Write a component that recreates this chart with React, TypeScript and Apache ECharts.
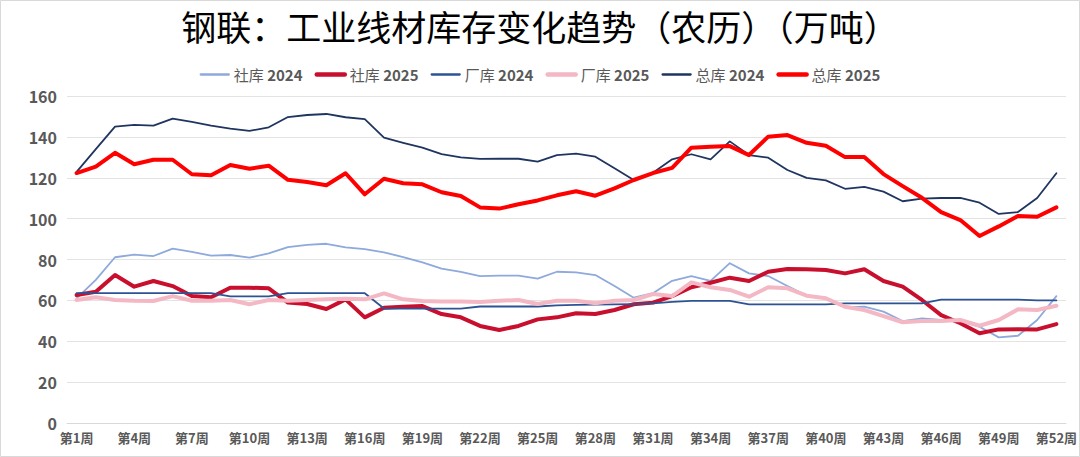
import React, { useEffect, useRef } from "react";
import * as echarts from "echarts";

const weeks = [
  "第1周","第2周","第3周","第4周","第5周","第6周","第7周","第8周","第9周","第10周",
  "第11周","第12周","第13周","第14周","第15周","第16周","第17周","第18周","第19周","第20周",
  "第21周","第22周","第23周","第24周","第25周","第26周","第27周","第28周","第29周","第30周",
  "第31周","第32周","第33周","第34周","第35周","第36周","第37周","第38周","第39周","第40周",
  "第41周","第42周","第43周","第44周","第45周","第46周","第47周","第48周","第49周","第50周",
  "第51周","第52周",
];

const she2024 = [
  61, 70, 81.1, 82.4, 81.7, 85.3, 83.7, 81.9, 82.2, 80.9,
  83, 86.1, 87.2, 87.7, 85.9, 85.1, 83.5, 81.2, 78.6, 75.5,
  73.9, 71.9, 72.1, 72.1, 70.6, 74, 73.7, 72.4, 67, 61.3,
  63.5, 69.6, 71.9, 69.5, 78.2, 73.2, 71.9, 67, 62.3, 61,
  56.6, 56.9, 54.5, 49.9, 51.2, 50.4, 49.9, 47.1, 41.9, 42.7,
  50.4, 62.1,
];
const she2025 = [
  62.6, 64.2, 72.4, 66.7, 69.5, 67, 62.1, 61.5, 66.2, 66.2,
  65.9, 58.9, 58.2, 55.8, 60.5, 51.7, 56.4, 56.9, 57.2, 53.3,
  51.7, 47.5, 45.5, 47.5, 50.7, 51.7, 53.7, 53.3, 55.3, 58.1,
  58.9, 62.1, 66.4, 68.6, 71.1, 69.5, 74, 75.3, 75.2, 74.9,
  73.2, 75.2, 69.5, 66.7, 60.2, 52.8, 48.8, 43.9, 45.8, 45.9,
  45.8, 48.4,
];
const chang2024 = [
  63.5, 63.5, 63.5, 63.5, 63.5, 63.5, 63.5, 63.5, 62, 62,
  62, 63.5, 63.5, 63.5, 63.5, 63.5, 56, 56, 56, 56,
  56, 57, 57, 57, 57, 57.6, 57.8, 57.9, 58, 58.2,
  58.5, 59.3, 59.8, 59.8, 59.8, 58, 58, 58, 58, 58,
  58.5, 58.5, 58.5, 58.5, 58.5, 60.4, 60.4, 60.4, 60.4, 60.4,
  60, 60,
];
const chang2025 = [
  60.2, 61.5, 60.2, 59.8, 59.7, 62.1, 59.8, 59.8, 60.2, 58.1,
  60.2, 59.8, 60.2, 60.5, 60.8, 60.5, 63.4, 60.5, 59.7, 59.5,
  59.5, 59.2, 59.8, 60.2, 58.2, 59.8, 59.8, 58.6, 59.8, 60.2,
  63.1, 62.1, 68.8, 66.4, 65.1, 61.8, 66.4, 65.9, 62.3, 61,
  56.9, 55.3, 52.3, 49.3, 49.9, 49.9, 50.4, 47.6, 50.4, 55.6,
  55.3, 57.4,
];
const total2024 = [
  122.9, 134, 145, 145.9, 145.5, 148.9, 147.3, 145.5, 144, 142.9,
  144.7, 149.7, 150.7, 151.2, 149.6, 148.7, 139.6, 137.1, 134.7, 131.6,
  130, 129.2, 129.3, 129.3, 127.9, 131.1, 131.8, 130.3, 124.6, 118.9,
  122.5, 129, 131.5, 129, 137.8, 131.1, 129.8, 123.8, 119.9, 118.7,
  114.6, 115.5, 113.2, 108.5, 109.8, 110.1, 110.1, 107.8, 102.3, 103.2,
  110.1, 122.2,
];
const total2025 = [
  122.3, 125.4, 132.2, 126.6, 128.8, 128.8, 121.7, 121.2, 126.2, 124.4,
  125.9, 119, 117.9, 116.3, 122.2, 111.9, 119.5, 117.3, 116.8, 112.9,
  111.1, 105.5, 104.9, 107, 108.9, 111.4, 113.4, 111.2, 114.8, 118.9,
  122.3, 124.8, 134.7, 135.2, 135.5, 131.1, 140.1, 140.9, 137.1, 135.7,
  130.1, 130.1, 121.8, 115.9, 110.2, 103.2, 99.3, 91.5, 96.2, 101.3,
  100.9, 105.5,
];

const seriesNames = ["社库 2024", "社库 2025", "厂库 2024", "厂库 2025", "总库 2024", "总库 2025"];
const seriesData = [she2024, she2025, chang2024, chang2025, total2024, total2025];
const seriesColors = ["#8EA9DB", "#C8102E", "#2E5395", "#F4B8C4", "#1F3560", "#FF0000"];
const seriesWidths = [1.8, 4, 1.8, 4, 1.8, 4];

const FONT = "'Noto Sans CJK SC', 'Noto Sans', sans-serif";

export default function App() {
  const ref = useRef<HTMLDivElement>(null);
  useEffect(() => {
    if (!ref.current) return;
    const chart = echarts.init(ref.current, undefined, { renderer: "svg" });
    chart.setOption({
      animation: false,
      backgroundColor: "#ffffff",
      title: {
        text: "钢联：工业线材库存变化趋势（农历）（万吨）",
        left: "center",
        top: 3,
        textStyle: { fontFamily: FONT, fontSize: 35, fontWeight: "normal", color: "#000000" },
      },
      legend: {
        top: 62,
        left: "center",
        itemWidth: 28,
        itemHeight: 14,
        itemGap: 12,
        data: seriesNames.map((n, i) => ({
          name: n,
          lineStyle: { width: seriesWidths[i] + 0.5, color: seriesColors[i] },
        })),
        formatter: (name: string) => {
          const parts = name.split(" ");
          return `{a|${parts[0]}} {b|${parts[1]}}`;
        },
        textStyle: {
          color: "#595959",
          fontFamily: FONT,
          fontSize: 15,
          rich: {
            a: { fontFamily: FONT, fontSize: 15, color: "#595959", fontWeight: "normal" },
            b: { fontFamily: FONT, fontSize: 15, color: "#595959", fontWeight: "bold" },
          },
        },
      },
      grid: { left: 67, right: 8, top: 96, bottom: 34, containLabel: false },
      xAxis: {
        type: "category",
        data: weeks,
        boundaryGap: true,
        axisLine: { show: true, lineStyle: { color: "#D9D9D9", width: 1 } },
        axisTick: { show: false },
        axisLabel: {
          interval: 2,
          margin: 8,
          color: "#595959",
          fontFamily: FONT,
          fontSize: 13,
          fontWeight: "bold",
        },
      },
      yAxis: {
        type: "value",
        min: 0,
        max: 160,
        interval: 20,
        axisLine: { show: false },
        axisTick: { show: false },
        splitLine: { lineStyle: { color: "#E3E3E3", width: 1 } },
        axisLabel: {
          margin: 10,
          color: "#595959",
          fontFamily: FONT,
          fontSize: 16,
          fontWeight: "bold",
        },
      },
      series: seriesNames.map((name, i) => ({
        name,
        type: "line",
        data: seriesData[i],
        symbol: "circle",
        symbolSize: 0,
        showSymbol: false,
        smooth: false,
        lineStyle: { color: seriesColors[i], width: seriesWidths[i], cap: "round", join: "round" },
        itemStyle: { color: "rgba(0,0,0,0)", borderWidth: 0 },
      })),
      graphic: [
        {
          type: "rect",
          shape: { x: 0.5, y: 0.5, width: 1079, height: 456 },
          style: { fill: "none", stroke: "#D9D9D9", lineWidth: 1 },
          silent: true,
        },
      ],
    });
    return () => chart.dispose();
  }, []);
  return (
    <div
      ref={ref}
      style={{ position: "fixed", left: 0, top: 0, width: 1080, height: 457 }}
    />
  );
}
